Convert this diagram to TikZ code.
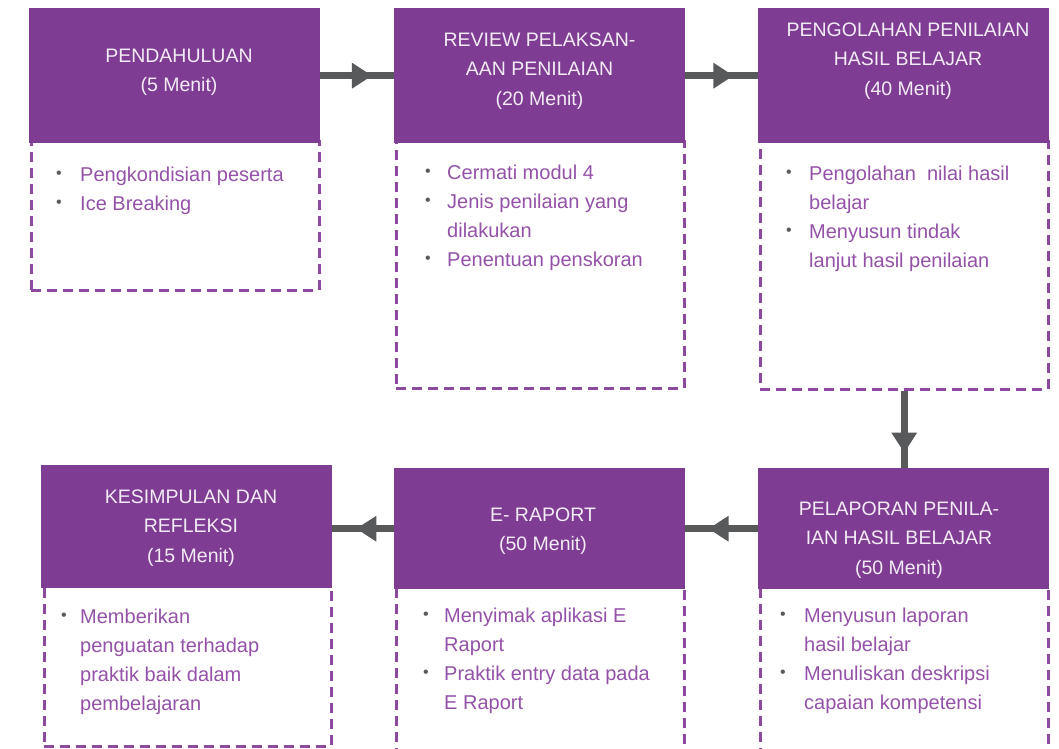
\documentclass[tikz,border=0pt]{standalone}
\usepackage{fontspec}
\setmainfont{Liberation Sans}
\usetikzlibrary{arrows.meta,decorations.markings}

\definecolor{headfill}{HTML}{7E3C92}
\definecolor{headtext}{HTML}{F3EBF6}
\definecolor{bodytext}{HTML}{9352A8}
\definecolor{dashcol}{HTML}{8B4A9F}
\definecolor{flowgray}{HTML}{58595B}

\newcommand{\hdfont}{\fontsize{19.5}{29.5}\selectfont}
\newcommand{\bdfont}{\fontsize{20}{29}\selectfont}
\newcommand{\bul}{\textcolor{flowgray}{\raisebox{2.5pt}{\fontsize{16}{16}\selectfont\textbullet}}}
% header text: centred lines, baseline of the first line at the node point
\newcommand{\htab}[1]{\begin{tabular}[t]{@{}c@{}}#1\end{tabular}}
% bullet list: bullet column of width #1, item lines in the second column
\newcommand{\blist}[2]{\begin{tabular}[t]{@{}p{#1}@{}l@{}}#2\end{tabular}}

\tikzset{
  head/.style={fill=headfill, draw=none, inner sep=0pt, minimum width=291pt, anchor=north west},
  body/.style={draw=dashcol, line width=2.5pt, dash pattern=on 10pt off 6pt, inner sep=0pt, anchor=north west},
  htext/.style={text=headtext, inner sep=0pt, anchor=base, font=\hdfont},
  btext/.style={text=bodytext, inner sep=0pt, anchor=base west, font=\bdfont},
  flow/.style={flowgray, line width=7pt, postaction={decorate},
    decoration={markings, mark=at position #1 with {\arrow{Triangle[length=20pt,width=26pt,line width=0pt]}}}},
}

\begin{document}
\begin{tikzpicture}[x=1pt, y=-1pt]
\useasboundingbox (0,0) rectangle (1059,748);

% dashed bodies
\node[body, minimum width=288pt, minimum height=149pt] (b1) at (30,140) {};
\node[body, minimum width=288pt, minimum height=247pt] (b2) at (395,140) {};
\node[body, minimum width=288pt, minimum height=248pt] (b3) at (759,140) {};
\node[body, minimum width=287pt, minimum height=160pt] (b4) at (43,585) {};
\node[body, minimum width=288pt, minimum height=190pt] (b5) at (395,585) {};
\node[body, minimum width=288pt, minimum height=190pt] (b6) at (759,585) {};

% purple headers
\node[head, minimum height=135pt] (h1) at (29,8) {};
\node[head, minimum height=135pt] (h2) at (394,8) {};
\node[head, minimum height=135pt] (h3) at (758,8) {};
\node[head, minimum height=123pt] (h4) at (41,465) {};
\node[head, minimum height=121pt] (h5) at (394,468) {};
\node[head, minimum height=121pt] (h6) at (758,468) {};

% header titles
\node[htext] (t1) at (179,62) {\htab{PENDAHULUAN\\(5 Menit)}};
\node[htext] (t2) at (539.5,46) {\htab{REVIEW PELAKSAN-\\AAN PENILAIAN\\(20 Menit)}};
\node[htext] (t3) at (908,36) {\htab{PENGOLAHAN PENILAIAN\\HASIL BELAJAR\\(40 Menit)}};
\node[htext] (t4) at (191,503) {\htab{KESIMPULAN DAN\\REFLEKSI\\(15 Menit)}};
\node[htext] (t5) at (543,521) {\htab{E- RAPORT\\(50 Menit)}};
\node[htext] (t6) at (899,515) {\htab{PELAPORAN PENILA-\\IAN HASIL BELAJAR\\(50 Menit)}};

% bullet lists
\node[btext] (l1) at (56,181) {\blist{24pt}{\bul & Pengkondisian peserta\\ \bul & Ice Breaking}};
\node[btext] (l2) at (425,179) {\blist{22pt}{\bul & Cermati modul 4\\ \bul & Jenis penilaian yang\\ & dilakukan\\ \bul & Penentuan penskoran}};
\node[btext] (l3) at (786,180) {\blist{23pt}{\bul & Pengolahan~ nilai hasil\\ & belajar\\ \bul & Menyusun tindak\\ & lanjut hasil penilaian}};
\node[btext] (l4) at (61,623) {\blist{19pt}{\bul & Memberikan\\ & penguatan terhadap\\ & praktik baik dalam\\ & pembelajaran}};
\node[btext] (l5) at (423,622) {\blist{21pt}{\bul & Menyimak aplikasi E\\ & Raport\\ \bul & Praktik entry data pada\\ & E Raport}};
\node[btext] (l6) at (780,622) {\blist{24pt}{\bul & Menyusun laporan\\ & hasil belajar\\ \bul & Menuliskan deskripsi\\ & capaian kompetensi}};

% flow connectors
\draw[flow=0.70] (h1.east) -- (h2.west);
\draw[flow=0.66] (h2.east) -- (h3.west);
\draw[flow=0.80] (b3.south) -- (b3.south |- h6.north);
\draw[flow=0.68] (h6.west) -- (h5.east);
\draw[flow=0.61] (h5.west) -- (h5.west -| h4.east);
\end{tikzpicture}
\end{document}
